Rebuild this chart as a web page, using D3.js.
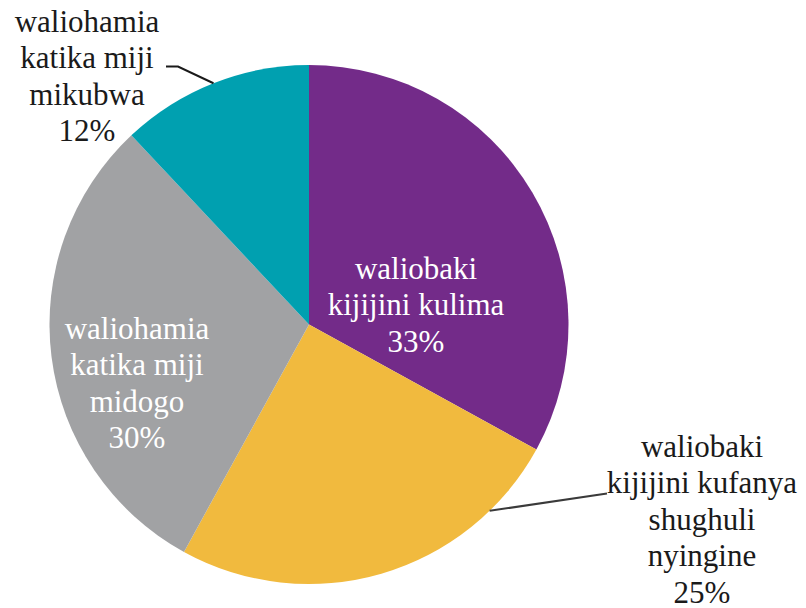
<!DOCTYPE html>
<html>
<head>
<meta charset="utf-8">
<script src="https://cdn.jsdelivr.net/npm/d3@7"></script>
</head>
<body style="margin:0">
<svg id="chart" width="806" height="608"></svg>
<script>
// data, clockwise from 12 o'clock
var categories = ['waliobaki kijijini kulima', 'waliobaki kijijini kufanya shughuli nyingine', 'waliohamia katika miji midogo', 'waliohamia katika miji mikubwa'];
var values = [33, 25, 30, 12];
var colors = ['#732b89', '#f1ba3e', '#a1a2a4', '#00a0b0'];
// label text split into lines (last line is the percent)
var labelLines = [
	['waliobaki', 'kijijini kulima'],
	['waliobaki', 'kijijini kufanya', 'shughuli', 'nyingine'],
	['waliohamia', 'katika miji', 'midogo'],
	['waliohamia', 'katika miji', 'mikubwa']
];

var svg = d3.select('#chart');
var cx = 309, cy = 324.5, radius = 259.5;

var pie = d3.pie().sort(null).value(function(d){ return d; });
var arc = d3.arc().innerRadius(0).outerRadius(radius);
var arcs = pie(values);

var g = svg.append('g').attr('transform', 'translate(' + cx + ',' + cy + ')');

g.selectAll('path.slice')
	.data(arcs)
	.enter()
	.append('path')
		.attr('class', 'slice')
		.attr('d', arc)
		.attr('fill', function(d, i){ return colors[i]; });

// leader lines for the outside labels, from the arc edge to the text
var leader = d3.line();
var edge = function(a, frac){
	var ang = a.startAngle + (a.endAngle - a.startAngle) * frac;
	return [Math.sin(ang) * radius, -Math.cos(ang) * radius];
};
g.append('path')
	.attr('d', leader([edge(arcs[1], 0.19), [298, 169]]))
	.attr('fill', 'none')
	.attr('stroke', '#3a3a3a')
	.attr('stroke-width', 2);
g.append('path')
	.attr('d', leader([[-143, -258], [-131, -258], edge(arcs[3], 0.5)]))
	.attr('fill', 'none')
	.attr('stroke', '#1a1a1a')
	.attr('stroke-width', 2);

// label placement (absolute, in the svg)
var labelPos = [
	{ x: 416, y: 278.5, fill: '#fff' },
	{ x: 702, y: 456.5, fill: '#1a1a1a' },
	{ x: 137, y: 338.5, fill: '#fff' },
	{ x: 87, y: 31.5, fill: '#1a1a1a' }
];
var lineH = 36.5;

arcs.forEach(function(a, i){
	var lines = labelLines[i].concat([values[i] + '%']);
	var p = labelPos[i];
	lines.forEach(function(l, k){
		svg.append('text')
			.attr('x', p.x)
			.attr('y', p.y + k * lineH)
			.attr('text-anchor', 'middle')
			.style('font-family', 'Liberation Serif')
			.attr('font-size', 31)
			.attr('fill', p.fill)
			.text(l);
	});
});
</script>
</body>
</html>
